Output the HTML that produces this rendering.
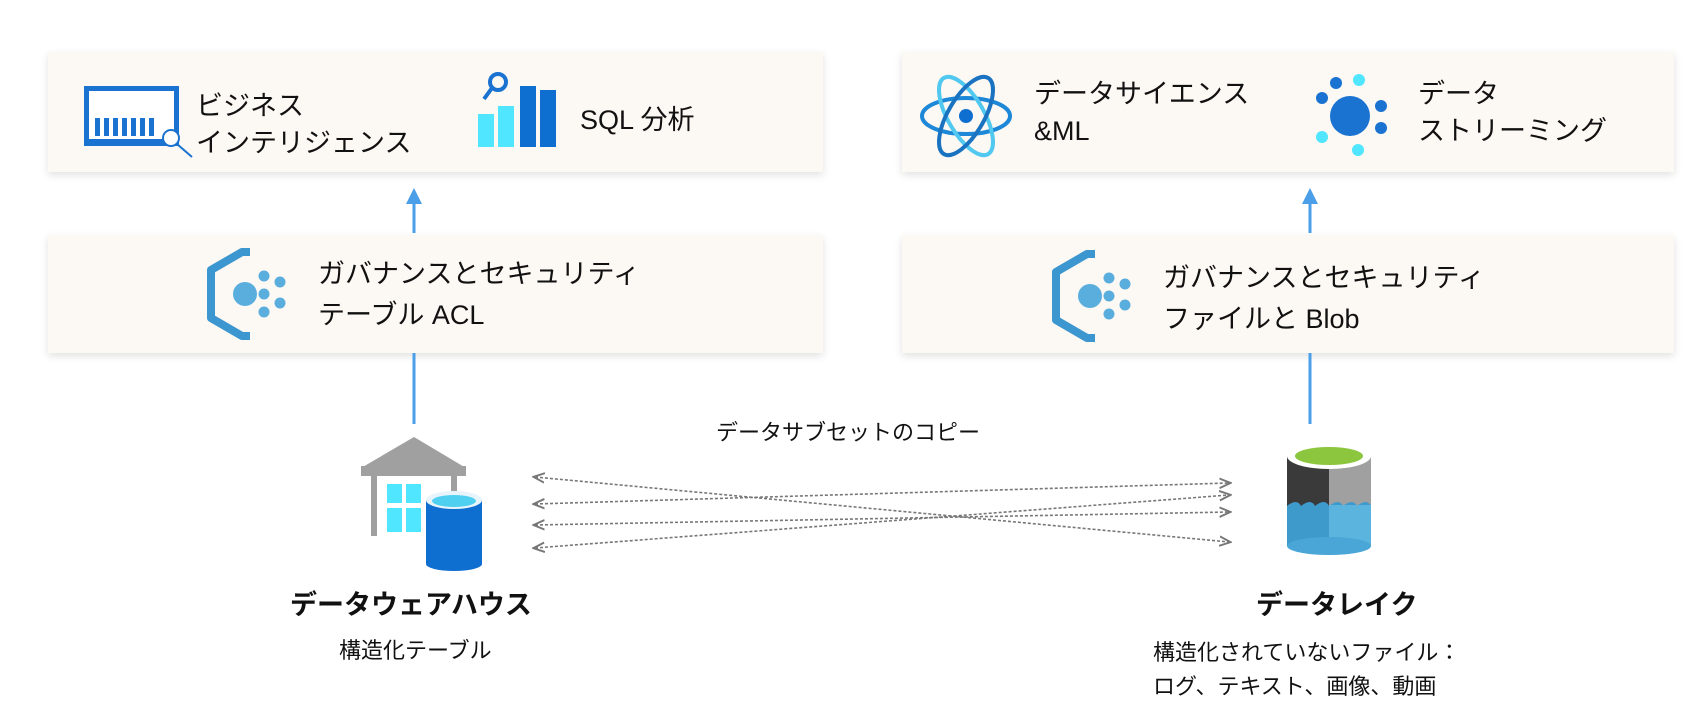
<!DOCTYPE html>
<html><head><meta charset="utf-8"><style>
body{margin:0;width:1708px;height:715px;background:#fff;position:relative;overflow:hidden;font-family:"Liberation Sans","Noto Sans CJK JP",sans-serif;color:#111}
.box{position:absolute;background:#fcf8f3;box-shadow:0 3px 8px rgba(0,0,0,0.12)}
.t{position:absolute;font-size:27px;line-height:37px;white-space:nowrap}
svg{position:absolute;left:0;top:0}
</style></head><body>
<div class="box" style="left:48px;top:52px;width:775px;height:120px"></div>
<div class="box" style="left:48px;top:235px;width:775px;height:118px"></div>
<div class="box" style="left:902px;top:52px;width:772px;height:120px"></div>
<div class="box" style="left:902px;top:235px;width:772px;height:118px"></div>

<div class="t" style="left:196px;top:88px">ビジネス<br>インテリジェンス</div>
<div class="t" style="left:580px;top:102px">SQL 分析</div>
<div class="t" style="left:318px;top:254px;line-height:41px">ガバナンスとセキュリティ<br>テーブル ACL</div>
<div class="t" style="left:1034px;top:76px">データサイエンス<br>&amp;ML</div>
<div class="t" style="left:1418px;top:76px">データ<br>ストリーミング</div>
<div class="t" style="left:1163px;top:258px;line-height:41px">ガバナンスとセキュリティ<br>ファイルと Blob</div>
<div class="t" style="left:716px;top:414px;font-size:22px">データサブセットのコピー</div>
<div class="t" style="left:290px;top:587px;font-weight:bold;font-size:27px">データウェアハウス</div>
<div class="t" style="left:339px;top:632px;font-size:22px">構造化テーブル</div>
<div class="t" style="left:1256px;top:587px;font-weight:bold;font-size:27px">データレイク</div>
<div class="t" style="left:1153px;top:636px;font-size:22px;line-height:34px">構造化されていないファイル：<br>ログ、テキスト、画像、動画</div>

<svg width="1708" height="715">
<defs><marker id="a" markerWidth="8" markerHeight="8" refX="6" refY="4" orient="auto-start-reverse"><path d="M0,1 L7,4 L0,7" fill="none" stroke="#777" stroke-width="1.2"/></marker></defs>
<g stroke="#4a9fe8" stroke-width="3">
<line x1="414" y1="200" x2="414" y2="233"/><line x1="414" y1="353" x2="414" y2="424"/>
<line x1="1310" y1="200" x2="1310" y2="233"/><line x1="1310" y1="353" x2="1310" y2="424"/>
</g>
<path d="M406,204 L414,188 L422,204Z M1302,204 L1310,188 L1318,204Z" fill="#4a9fe8"/>
<g stroke="#777" stroke-width="1.6" stroke-dasharray="3,2" marker-start="url(#a)" marker-end="url(#a)" fill="none">
<line x1="535" y1="477" x2="1229" y2="542"/>
<line x1="535" y1="504" x2="1229" y2="483"/>
<line x1="535" y1="525" x2="1229" y2="512"/>
<line x1="535" y1="548" x2="1229" y2="495"/>
</g>
<!-- BI icon -->
<rect x="84" y="86" width="95" height="60" fill="#1a73d1"/><rect x="89" y="91" width="85" height="48" fill="#fff"/>
<g fill="#1a73d1"><rect x="95" y="118" width="5" height="18"/><rect x="104" y="118" width="5" height="18"/><rect x="113" y="118" width="5" height="18"/><rect x="122" y="118" width="5" height="18"/><rect x="131" y="118" width="5" height="18"/><rect x="140" y="118" width="5" height="18"/><rect x="149" y="118" width="5" height="18"/></g>
<circle cx="171" cy="138" r="8" fill="#fff" stroke="#1a73d1" stroke-width="2"/><line x1="177" y1="144" x2="192" y2="157" stroke="#1a73d1" stroke-width="2"/>
<!-- SQL icon -->
<rect x="478" y="114" width="16" height="33" fill="#50e6ff"/><rect x="498" y="106" width="16" height="41" fill="#50e6ff"/><rect x="520" y="86" width="16" height="61" fill="#0f6fd1"/><rect x="540" y="90" width="16" height="57" fill="#0f6fd1"/>
<circle cx="498" cy="82" r="8" fill="none" stroke="#1a73d1" stroke-width="4"/><line x1="492" y1="88" x2="484" y2="99" stroke="#1a73d1" stroke-width="4"/>
<!-- gov icons -->
<g id="g"><path d="M250,252 L242,252 L211,270 L211,318 L242,336 L250,336" fill="none" stroke="#3c96cf" stroke-width="8" stroke-linejoin="round"/><circle cx="245" cy="294" r="12" fill="#5aaede"/><circle cx="264" cy="276" r="5.5" fill="#5aaede"/><circle cx="264" cy="294" r="5.5" fill="#5aaede"/><circle cx="264" cy="312" r="5.5" fill="#5aaede"/><circle cx="280" cy="282" r="5.5" fill="#5aaede"/><circle cx="280" cy="303" r="5.5" fill="#5aaede"/></g>
<use href="#g" x="845" y="2"/>
<!-- atom -->
<g fill="none" stroke-width="4"><ellipse cx="966" cy="116" rx="44" ry="18" stroke="#1e88d8"/><ellipse cx="966" cy="116" rx="44" ry="18" stroke="#50c8f0" transform="rotate(60 966 116)"/><ellipse cx="966" cy="116" rx="44" ry="18" stroke="#1a73c0" transform="rotate(-60 966 116)"/></g>
<circle cx="966" cy="116" r="7" fill="#0f6fd1"/>
<!-- stream -->
<circle cx="1350" cy="116" r="20" fill="#1a73d1"/>
<g fill="#1a73d1"><circle cx="1336" cy="83" r="6"/><circle cx="1322" cy="98" r="6"/><circle cx="1381" cy="106" r="6"/><circle cx="1381" cy="128" r="6"/></g>
<g fill="#50e6ff"><circle cx="1359" cy="80" r="6"/><circle cx="1322" cy="137" r="6"/><circle cx="1358" cy="150" r="6"/></g>
<!-- warehouse -->
<path d="M361,468 L414,437 L466,468Z" fill="#a0a0a0"/><rect x="361" y="466" width="105" height="10" fill="#a0a0a0"/>
<rect x="371" y="476" width="6" height="60" fill="#a0a0a0"/><rect x="451" y="476" width="6" height="24" fill="#a0a0a0"/>
<g fill="#50e6ff"><rect x="387" y="484" width="15" height="19"/><rect x="406" y="484" width="15" height="19"/><rect x="387" y="508" width="15" height="24"/><rect x="406" y="508" width="15" height="24"/></g>
<rect x="426" y="500" width="56" height="64" fill="#0f6fd1"/><ellipse cx="454" cy="564" rx="28" ry="7" fill="#0f6fd1"/>
<ellipse cx="454" cy="500" rx="28" ry="9" fill="#e8f4fb"/><ellipse cx="454" cy="501" rx="22" ry="6" fill="#50d0f0"/>
<!-- lake -->
<rect x="1287" y="456" width="42" height="90" fill="#3a3a3a"/><rect x="1329" y="456" width="42" height="90" fill="#a0a0a0"/>
<path d="M1287,506 q10,-8 14,0 q10,-8 14,0 q10,-8 14,0 q10,-8 14,0 q10,-8 14,0 q10,-8 14,0 L1371,546 L1287,546Z" fill="#3f9acc"/>
<rect x="1329" y="505" width="42" height="41" fill="#5bb4dd"/>
<ellipse cx="1329" cy="546" rx="42" ry="9" fill="#4aa6d6"/>
<ellipse cx="1329" cy="456" rx="42" ry="13" fill="#fff"/><ellipse cx="1329" cy="456" rx="34" ry="9" fill="#8cc63f"/>
</svg>
</body></html>
